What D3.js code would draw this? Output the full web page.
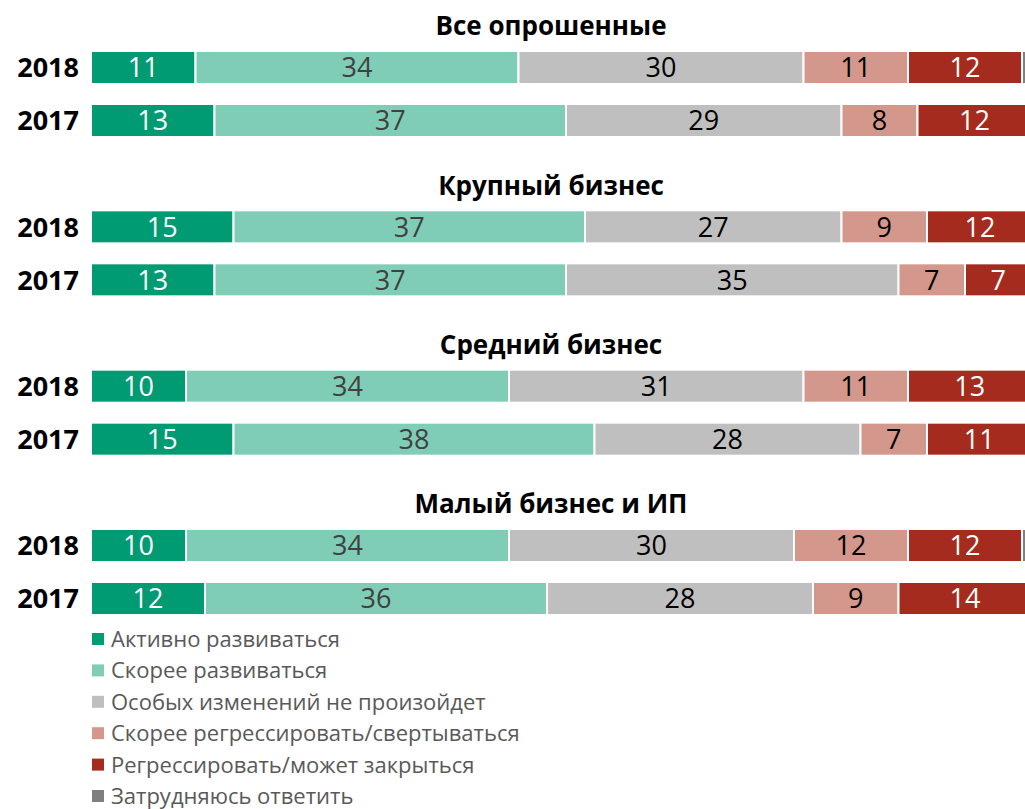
<!DOCTYPE html>
<html>
<head>
<meta charset="utf-8">
<script src="https://cdnjs.cloudflare.com/ajax/libs/d3/7.8.5/d3.min.js"></script>
<style>
  html, body { margin: 0; padding: 0; background: #fff; }
  svg { display: block; }
</style>
</head>
<body>
<svg id="chart" width="1025" height="809"></svg>
<script>
// ---- DATA ----
const groups = ["Все опрошенные", "Крупный бизнес", "Средний бизнес", "Малый бизнес и ИП"];
const years = ["2018", "2017"];
const seriesNames = [
  "Активно развиваться",
  "Скорее развиваться",
  "Особых изменений не произойдет",
  "Скорее регрессировать/свертываться",
  "Регрессировать/может закрыться",
  "Затрудняюсь ответить"
];
// rows in order: group0-2018, group0-2017, group1-2018, ...
const activeDev   = [11, 13, 15, 13, 10, 15, 10, 12];
const ratherDev   = [34, 37, 37, 37, 34, 38, 34, 36];
const noChange    = [30, 29, 27, 35, 31, 28, 30, 28];
const ratherRegr  = [11,  8,  9,  7, 11,  7, 12,  9];
const regress     = [12, 12, 12,  7, 13, 11, 12, 14];
const dontKnow    = [ 2,  0,  0,  0,  0,  0,  2,  0];

const seriesValues = [activeDev, ratherDev, noChange, ratherRegr, regress, dontKnow];
const colors = ["#009B72", "#80CDB7", "#BFBFBF", "#D4978C", "#A52B1E", "#7F7F7F"];
const labelColors = ["#ffffff", "#404040", "#000000", "#000000", "#ffffff", null];

// ---- LAYOUT ----
const svg = d3.select("#chart");
const font = "'Open Sans', 'Noto Sans', sans-serif";

const x = d3.scaleLinear().domain([0, 100]).range([91, 1041]);
const groupY = d3.scaleLinear().domain([0, 3]).range([26, 504]); // title centers
const rowOffset = { "2018": 25, "2017": 78 };
const barH = 33;

const rows = [];
groups.forEach((g, gi) => {
  years.forEach((yr, yi) => {
    const idx = gi * 2 + yi;
    let cum = 0;
    const segs = seriesValues.map((arr, si) => {
      const s = { si, v: arr[idx], x0: cum, x1: cum + arr[idx] };
      cum += arr[idx];
      return s;
    });
    rows.push({ group: gi, year: yr, top: groupY(gi) + rowOffset[yr], segs });
  });
});

// Group titles
svg.selectAll("text.title").data(groups).join("text")
  .attr("class", "title")
  .attr("x", 551)
  .attr("y", (d, i) => groupY(i))
  .attr("dy", "0.36em")
  .attr("text-anchor", "middle")
  .style("font-family", font)
  .style("font-weight", "bold")
  .style("font-size", "26px")
  .attr("fill", "#000")
  .text(d => d);

// Rows
const rowG = svg.selectAll("g.row").data(rows).join("g").attr("class", "row");

rowG.append("text")
  .attr("x", 79)
  .attr("y", d => d.top + barH / 2)
  .attr("dy", "0.36em")
  .attr("text-anchor", "end")
  .style("font-family", font)
  .style("font-weight", "bold")
  .style("font-size", "27px")
  .attr("fill", "#000")
  .text(d => d.year);

rowG.selectAll("rect").data(d => d.segs.filter(s => s.v > 0).map(s => ({ ...s, top: d.top })))
  .join("rect")
  .attr("x", s => x(s.x0))
  .attr("y", s => s.top)
  .attr("width", s => Math.max(0, x(s.x1) - x(s.x0)))
  .attr("height", barH)
  .attr("fill", s => colors[s.si])
  .attr("stroke", "#fff")
  .attr("stroke-width", 2);

rowG.selectAll("text.val").data(d => d.segs.filter(s => s.v > 0 && labelColors[s.si]).map(s => ({ ...s, top: d.top })))
  .join("text")
  .attr("class", "val")
  .attr("x", s => Math.min((x(s.x0) + x(s.x1)) / 2, (x(s.x0) + 1025) / 2 + 4))
  .attr("y", s => s.top + barH / 2)
  .attr("dy", "0.36em")
  .attr("text-anchor", "middle")
  .style("font-family", font)
  .style("font-size", "27px")
  .attr("fill", s => labelColors[s.si])
  .text(s => d3.format("d")(s.v));

// Legend
const legendY = d3.scaleLinear().domain([0, 5]).range([639, 796]);
const lg = svg.selectAll("g.legend").data(seriesNames).join("g").attr("class", "legend")
  .attr("transform", (d, i) => `translate(92, ${legendY(i)})`);
lg.append("rect").attr("x", 0).attr("y", -6).attr("width", 12).attr("height", 12)
  .attr("fill", (d, i) => colors[i]);
lg.append("text").attr("x", 19).attr("y", 0).attr("dy", "0.36em")
  .style("font-family", font)
  .style("font-size", "22px")
  .attr("fill", "#595959")
  .text(d => d);
</script>
</body>
</html>
